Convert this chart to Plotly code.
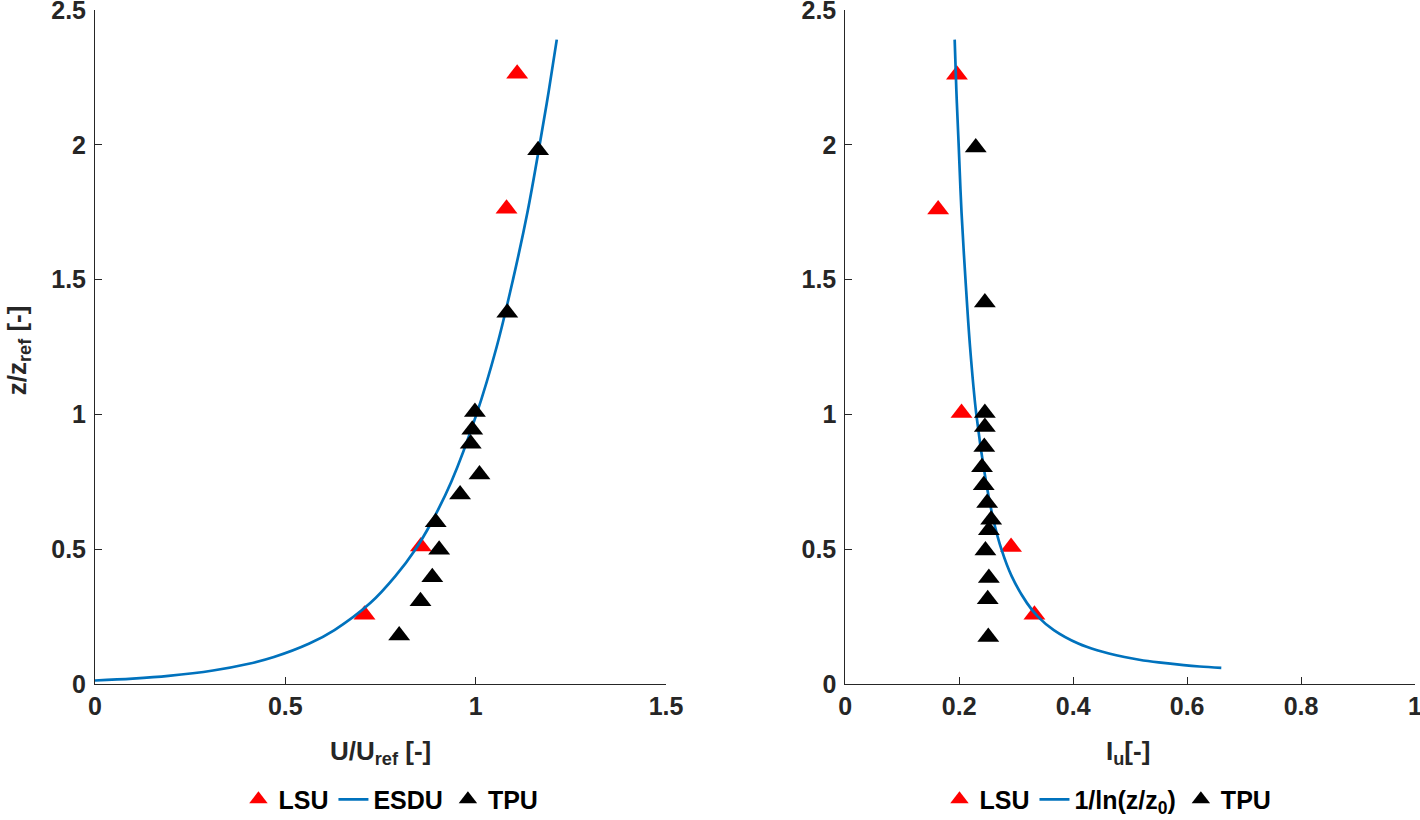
import plotly.graph_objects as go

# ---------------- Left panel: mean velocity profile ----------------
lsu_u = [0.708, 0.856, 1.081, 1.109]
lsu_u_z = [0.257, 0.510, 1.763, 2.264]

tpu_u = [0.799, 0.855, 0.886, 0.904, 0.895, 0.959, 1.010, 0.987, 0.991, 0.998, 1.083, 1.164]
tpu_u_z = [0.180, 0.307, 0.396, 0.498, 0.600, 0.703, 0.777, 0.891, 0.943, 1.009, 1.377, 1.980]

esdu_z = [0.013, 0.02, 0.03, 0.05, 0.075, 0.1, 0.15, 0.2, 0.3, 0.4, 0.5, 0.6,
          0.75, 1.0, 1.25, 1.5, 1.75, 2.0, 2.2, 2.39]
esdu_u = [0.0, 0.099, 0.193, 0.310, 0.404, 0.470, 0.563, 0.629, 0.723, 0.789, 0.842,
          0.884, 0.936, 1.002, 1.055, 1.098, 1.136, 1.168, 1.192, 1.213]

# ---------------- Right panel: turbulence intensity ----------------
lsu_i = [0.332, 0.291, 0.204, 0.163, 0.196]
lsu_i_z = [0.257, 0.508, 1.005, 1.760, 2.260]

tpu_i = [0.251, 0.250, 0.252, 0.246, 0.252, 0.256, 0.249, 0.243, 0.240, 0.244,
         0.245, 0.245, 0.245, 0.229]
tpu_i_z = [0.174, 0.314, 0.393, 0.495, 0.570, 0.609, 0.671, 0.737, 0.804, 0.879,
           0.953, 1.005, 1.415, 1.990]

fit_z = [0.06, 0.065, 0.07, 0.08, 0.09, 0.1, 0.125, 0.15, 0.2, 0.25, 0.3, 0.4, 0.5,
         0.6, 0.75, 1.0, 1.25, 1.5, 1.75, 2.0, 2.2, 2.39]
fit_i = [0.660, 0.622, 0.594, 0.550, 0.516, 0.490, 0.442, 0.409, 0.366, 0.338, 0.319,
         0.292, 0.274, 0.261, 0.247, 0.230, 0.219, 0.211, 0.204, 0.199, 0.195, 0.192]

# ---------------- Ticks ----------------
y_ticks = [0, 0.5, 1, 1.5, 2, 2.5]
y_tick_text = ["0", "0.5", "1", "1.5", "2", "2.5"]
xl_ticks = [0, 0.5, 1, 1.5]
xl_tick_text = ["0", "0.5", "1", "1.5"]
xr_ticks = [0, 0.2, 0.4, 0.6, 0.8, 1]
xr_tick_text = ["0", "0.2", "0.4", "0.6", "0.8", "1"]

RED = "#FF0000"
BLACK = "#000000"
BLUE = "#0072BD"
AX = "#262626"
FONT = "Liberation Sans"
MSIZE = 19

fig = go.Figure()

fig.add_trace(go.Scatter(x=lsu_u, y=lsu_u_z, mode="markers", name="LSU",
                         marker=dict(symbol="triangle-up", size=MSIZE, color=RED),
                         xaxis="x", yaxis="y", legend="legend"))
fig.add_trace(go.Scatter(x=esdu_u, y=esdu_z, mode="lines", name="ESDU",
                         line=dict(color=BLUE, width=2.7, shape="spline"),
                         xaxis="x", yaxis="y", legend="legend"))
fig.add_trace(go.Scatter(x=tpu_u, y=tpu_u_z, mode="markers", name="TPU",
                         marker=dict(symbol="triangle-up", size=MSIZE, color=BLACK),
                         xaxis="x", yaxis="y", legend="legend"))

fig.add_trace(go.Scatter(x=lsu_i, y=lsu_i_z, mode="markers", name="LSU",
                         marker=dict(symbol="triangle-up", size=MSIZE, color=RED),
                         xaxis="x2", yaxis="y2", legend="legend2"))
fig.add_trace(go.Scatter(x=fit_i, y=fit_z, mode="lines", name="1/ln(z/z<sub>0</sub>)",
                         line=dict(color=BLUE, width=2.7, shape="spline"),
                         xaxis="x2", yaxis="y2", legend="legend2"))
fig.add_trace(go.Scatter(x=tpu_i, y=tpu_i_z, mode="markers", name="TPU",
                         marker=dict(symbol="triangle-up", size=MSIZE, color=BLACK),
                         xaxis="x2", yaxis="y2", legend="legend2"))

tickfont = dict(family=FONT, size=25, color=AX, weight="bold")
titlefont = dict(family=FONT, size=26, color=AX, weight="bold")

common_axis = dict(showgrid=False, zeroline=False, showline=True, linecolor=AX,
                   linewidth=1, ticks="inside", ticklen=7, tickcolor=AX, tickwidth=1,
                   tickfont=tickfont, mirror=False, automargin=False,
                   ticklabeloverflow="allow")

L_DOM = [0.0, 0.4326]
R_DOM = [0.5684, 1.0]

legend_common = dict(orientation="h", xanchor="center", yanchor="middle",
                     y=-0.1715, bgcolor="rgba(0,0,0,0)", itemwidth=30,
                     font=dict(family=FONT, size=25, color="black", weight="bold"))

fig.update_layout(
    width=1420, height=820,
    margin=dict(l=95, r=5, t=10, b=136, autoexpand=False),
    paper_bgcolor="white", plot_bgcolor="white",
    xaxis=dict(domain=L_DOM, range=[0, 1.5], tickvals=xl_ticks, ticktext=xl_tick_text,
               anchor="y", **common_axis),
    yaxis=dict(domain=[0, 1], range=[0, 2.5], tickvals=y_ticks, ticktext=y_tick_text,
               anchor="x", ticklabelstandoff=3, **common_axis),
    xaxis2=dict(domain=R_DOM, range=[0, 1], tickvals=xr_ticks, ticktext=xr_tick_text,
                anchor="y2", **common_axis),
    yaxis2=dict(domain=[0, 1], range=[0, 2.5], tickvals=y_ticks, ticktext=y_tick_text,
                anchor="x2", ticklabelstandoff=3, **common_axis),
    legend=dict(x=0.2242, **legend_common),
    legend2=dict(x=0.7674, **legend_common),
    showlegend=True,
)

# Axis titles (placed as annotations in paper coordinates of the plot area)
PW, PH = 1320.0, 673.5
def px_x(px):
    return (px - 95) / PW
def px_y(py):
    return (683.5 - py) / PH

fig.add_annotation(text="U/U<sub>ref</sub> [-]", x=px_x(380), y=px_y(752),
                   xref="paper", yref="paper", xanchor="center", yanchor="middle",
                   showarrow=False, font=titlefont)
fig.add_annotation(text="I<sub>u</sub>[-]", x=px_x(1128), y=px_y(752),
                   xref="paper", yref="paper", xanchor="center", yanchor="middle",
                   showarrow=False, font=titlefont)
fig.add_annotation(text="z/z<sub>ref</sub> [-]", x=px_x(18), y=px_y(350),
                   xref="paper", yref="paper", xanchor="center", yanchor="middle",
                   textangle=-90, showarrow=False, font=titlefont)

fig.write_html("out.html",
               config={"displayModeBar": False},
               post_script="document.body.style.margin='0';document.body.style.padding='0';")
